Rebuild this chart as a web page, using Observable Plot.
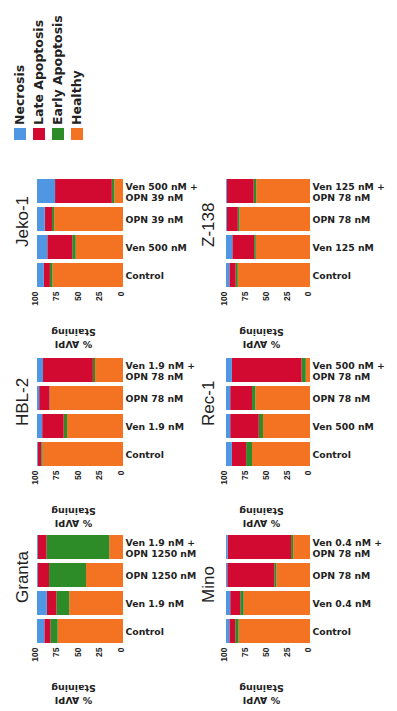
<!DOCTYPE html>
<html>
<head>
<meta charset="utf-8">
<script src="https://cdn.jsdelivr.net/npm/d3@7"></script>
<script src="https://cdn.jsdelivr.net/npm/@observablehq/plot@0.6"></script>
<style>
  body { margin: 0; background: #fff; }
  #root { position: relative; width: 397px; height: 711px; overflow: hidden; font-family: "DejaVu Sans", sans-serif; }
  .panel { position: absolute; }
  #legend { position: absolute; left: 9.5px; top: 140px; transform-origin: 0 0; transform: rotate(-90deg); }
  .item { display: flex; align-items: center; height: 19px; white-space: nowrap; font-weight: bold; font-size: 12.5px; color: #222; }
  .sw { width: 12px; height: 12px; margin-right: 3px; flex: none; }
</style>
</head>
<body>
<div id="root"><div id="legend"></div></div>
<script>
// ---- data ----
const cellLines = ["Jeko-1", "Z-138", "HBL-2", "Rec-1", "Granta", "Mino"];
const treatments = [
  ["Control", "Ven 500 nM", "OPN 39 nM", "Ven 500 nM +\nOPN 39 nM"],
  ["Control", "Ven 125 nM", "OPN 78 nM", "Ven 125 nM +\nOPN 78 nM"],
  ["Control", "Ven 1.9 nM", "OPN 78 nM", "Ven 1.9 nM +\nOPN 78 nM"],
  ["Control", "Ven 500 nM", "OPN 78 nM", "Ven 500 nM +\nOPN 78 nM"],
  ["Control", "Ven 1.9 nM", "OPN 1250 nM", "Ven 1.9 nM +\nOPN 1250 nM"],
  ["Control", "Ven 0.4 nM", "OPN 78 nM", "Ven 0.4 nM +\nOPN 78 nM"]
];
const stages = ["Necrosis", "Late Apoptosis", "Early Apoptosis", "Healthy"];
const stageColors = ["#4f97e3", "#d20a32", "#2d8c28", "#f47323"];
// values per cell line: [Control, Ven, OPN, Ven + OPN]
const necrosis       = [[8, 12, 9, 21], [4, 7.5, 1, 1], [1, 6, 2.5, 7], [7, 5, 5, 7], [8.5, 11.5, 1, 1], [4, 5, 1.5, 2]];
const lateApoptosis  = [[7, 29, 8.5, 66], [7.5, 26, 13, 32], [4, 25, 12, 58], [17, 34, 26, 83], [7, 11, 13, 10], [7, 12, 56, 75.5]];
const earlyApoptosis = [[3, 4, 2.5, 3], [2.5, 2, 2, 3], [1.5, 4, 0.5, 2.5], [7, 5, 4, 5], [8.5, 15, 43, 73], [4, 4, 2.5, 2.5]];
const healthy        = [[82, 55, 80, 10], [86, 64.5, 84, 64], [93.5, 65, 85, 32.5], [69, 56, 65, 5], [76, 62.5, 43, 16], [85, 79, 40, 20]];
const xTicks = [0, 25, 50, 75, 100];
const axisTitle = "% AVPI\nStaining";

// ---- legend ----
const legend = document.getElementById("legend");
stages.forEach((s, k) => {
  const it = document.createElement("div");
  it.className = "item";
  const sw = document.createElement("span");
  sw.className = "sw";
  sw.style.background = stageColors[k];
  const tx = document.createElement("span");
  tx.textContent = s;
  it.appendChild(sw); it.appendChild(tx);
  legend.appendChild(it);
});

// ---- panels ----
const root = document.getElementById("root");
const rowTops = [175, 354, 531];
cellLines.forEach((name, i) => {
  const rows = [];
  treatments[i].forEach((t, j) => {
    rows.push({t, stage: "Healthy", v: healthy[i][j]});
    rows.push({t, stage: "Early Apoptosis", v: earlyApoptosis[i][j]});
    rows.push({t, stage: "Late Apoptosis", v: lateApoptosis[i][j]});
    rows.push({t, stage: "Necrosis", v: necrosis[i][j]});
  });
  const col = i % 2, row = Math.floor(i / 2);
  const left = col ? 190 : 0;
  const width = col ? 207 : 200;
  const chart = Plot.plot({
    width, height: 175,
    marginTop: 2, marginBottom: 62,
    marginLeft: col ? 36 : 37, marginRight: col ? 87 : 77,
    style: {background: "transparent", color: "#222", fontFamily: "DejaVu Sans", overflow: "visible"},
    x: {domain: [0, 100], reverse: true, axis: null},
    y: {domain: treatments[i].slice().reverse(), paddingInner: 0.155, paddingOuter: 0, axis: null},
    color: {domain: stages, range: stageColors},
    marks: [
      Plot.barX(rows, Plot.stackX({x: "v", y: "t", fill: "stage"})),
      // x tick labels (rotated, reading bottom-to-top)
      Plot.text(xTicks, {x: d => d, text: d => String(d), frameAnchor: "bottom", rotate: -90, textAnchor: "end", dy: 3, fontSize: 8.5, fontWeight: "bold", fontFamily: "Liberation Sans", fill: "#222"}),
      Plot.axisY({anchor: "right", tickSize: 0, tickPadding: 2, fontSize: 9.3, fontWeight: "bold", lineHeight: 1.2, label: null}),
      Plot.text([name], {text: d => d, frameAnchor: "left", rotate: -90, dx: col ? -18 : -15, dy: 14, fontSize: 17, fontFamily: "Liberation Sans", fill: "#222"}),
      Plot.text([axisTitle], {text: d => d, frameAnchor: "bottom", rotate: 180, dx: -7, dy: 40, fontSize: 9.5, fontWeight: "bold", lineHeight: 1.3, fill: "#222"})
    ]
  });
  const wrap = document.createElement("div");
  wrap.className = "panel";
  wrap.style.left = left + "px";
  wrap.style.top = rowTops[row] + "px";
  wrap.appendChild(chart);
  root.appendChild(wrap);
});
</script>
</body>
</html>
